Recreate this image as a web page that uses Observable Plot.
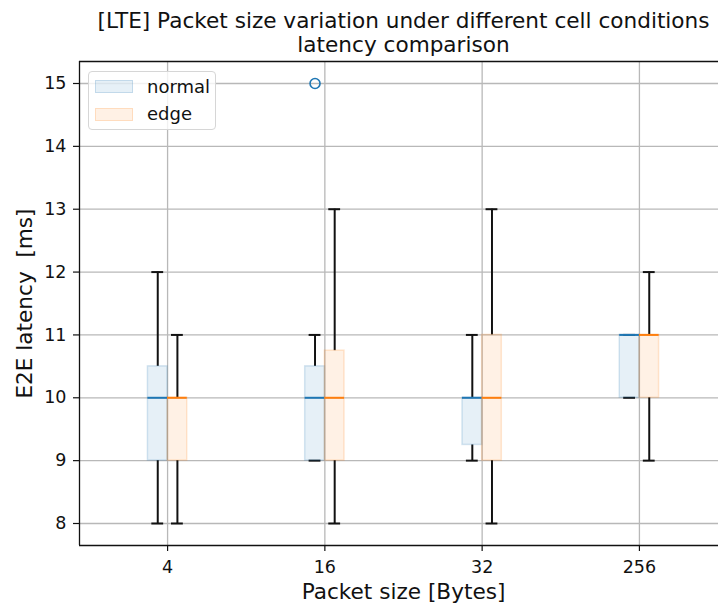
<!DOCTYPE html>
<html>
<head>
<meta charset="utf-8">
<script src="https://cdn.jsdelivr.net/npm/d3@7"></script>
<script src="https://cdn.jsdelivr.net/npm/@observablehq/plot@0.6"></script>
<style>
  html, body { margin: 0; padding: 0; background: #fff; }
  #wrap { position: relative; width: 718px; height: 606px; overflow: hidden; font-family: "DejaVu Sans", sans-serif; }
  #wrap svg text { white-space: pre; }
  #legend { position: absolute; left: 88px; top: 71px; width: 128px; height: 59px; box-sizing: border-box;
    border: 1px solid #d6d6d6; border-radius: 4px; background: rgba(255,255,255,0.8); }
  .sw { position: absolute; left: 6px; width: 38px; height: 13px; box-sizing: border-box; }
  .lab { position: absolute; left: 58px; font-size: 18px; color: #111; line-height: 18px; white-space: nowrap; }
</style>
</head>
<body>
<div id="wrap"></div>
<script>
const categories = ["4", "16", "32", "256"];
const seriesNames = ["normal", "edge"];
const seriesColors = ["#1f77b4", "#ff7f0e"];

const normalLow  = [8, 9, 9, 10];
const normalQ1   = [9, 9, 9.25, 10];
const normalMed  = [10, 10, 10, 11];
const normalQ3   = [10.5, 10.5, 10, 11];
const normalHigh = [12, 11, 11, 11];

const edgeLow  = [8, 8, 8, 9];
const edgeQ1   = [9, 9, 9, 10];
const edgeMed  = [10, 10, 10, 11];
const edgeQ3   = [10, 10.75, 11, 11];
const edgeHigh = [11, 13, 13, 12];

const outlierSeries = ["normal"];
const outlierCategory = ["16"];
const outlierValue = [15];

const yTicks = [8, 9, 10, 11, 12, 13, 14, 15];
const titleText = "[LTE] Packet size variation under different cell conditions\nlatency comparison";
const xLabel = "Packet size [Bytes]";
const yLabel = "E2E latency  [ms]";

const stats = {
  normal: [normalLow, normalQ1, normalMed, normalQ3, normalHigh],
  edge: [edgeLow, edgeQ1, edgeMed, edgeQ3, edgeHigh]
};
const offset = {normal: -0.0625, edge: 0.0625};
const halfBox = 0.0625, halfCap = 0.03125;

const rows = [];
seriesNames.forEach((s, si) => {
  categories.forEach((c, ci) => {
    const [lo, q1, med, q3, hi] = stats[s].map(a => a[ci]);
    rows.push({series: s, color: seriesColors[si], pos: ci + 1 + offset[s], lo, q1, med, q3, hi});
  });
});
const outliers = outlierValue.map((v, i) => ({
  pos: categories.indexOf(outlierCategory[i]) + 1 + offset[outlierSeries[i]],
  value: v,
  color: seriesColors[seriesNames.indexOf(outlierSeries[i])]
}));

const xDomain = [0.44, 4.56];
const yDomain = [7.65, 15.35];
const catIdx = categories.map((c, i) => i + 1);

const chart = Plot.plot({
  width: 718,
  height: 606,
  marginLeft: 79,
  marginRight: 0,
  marginTop: 61,
  marginBottom: 61,
  style: {fontFamily: "DejaVu Sans, sans-serif", background: "#fff", color: "#111"},
  x: {type: "linear", domain: xDomain, range: [79, 727]},
  y: {domain: yDomain},
  marks: [
    Plot.gridX(catIdx, {stroke: "#b8b8b8", strokeOpacity: 1, strokeWidth: 1.3}),
    Plot.gridY(yTicks, {stroke: "#b8b8b8", strokeOpacity: 1, strokeWidth: 1.3}),
    // whiskers
    Plot.ruleX(rows, {x: "pos", y1: "q3", y2: "hi", stroke: "#111", strokeWidth: 2}),
    Plot.ruleX(rows, {x: "pos", y1: "lo", y2: "q1", stroke: "#111", strokeWidth: 2}),
    // caps
    Plot.ruleY(rows, {y: "hi", x1: d => d.pos - halfCap, x2: d => d.pos + halfCap, stroke: "#111", strokeWidth: 2, strokeLinecap: "square"}),
    Plot.ruleY(rows, {y: "lo", x1: d => d.pos - halfCap, x2: d => d.pos + halfCap, stroke: "#111", strokeWidth: 2, strokeLinecap: "square"}),
    // boxes
    Plot.rect(rows, {x1: d => d.pos - halfBox, x2: d => d.pos + halfBox, y1: "q1", y2: "q3",
      fill: "color", fillOpacity: 0.11, stroke: "color", strokeOpacity: 0.18, strokeWidth: 1.5}),
    // medians
    Plot.ruleY(rows, {y: "med", x1: d => d.pos - halfBox, x2: d => d.pos + halfBox, stroke: "color", strokeWidth: 2}),
    // outliers
    Plot.dot(outliers, {x: "pos", y: "value", r: 5, stroke: "color", strokeWidth: 1.6, fill: "none"}),
    // spines
    Plot.ruleY(yDomain, {stroke: "#111", strokeWidth: 1.3}),
    Plot.ruleX([xDomain[0]], {stroke: "#111", strokeWidth: 1.3}),
    // axes
    Plot.axisY(yTicks, {anchor: "left", tickSize: 6, tickPadding: 7, fontSize: 17.5, label: null, strokeWidth: 1.2,
      tickFormat: d => String(d)}),
    Plot.axisX(catIdx, {anchor: "bottom", tickSize: 6, tickPadding: 9, fontSize: 17.5, label: null,
      tickFormat: d => categories[d - 1], strokeWidth: 1.2}),
    Plot.text([yLabel], {frameAnchor: "left", dx: -48, rotate: -90, fontSize: 21.6, textAnchor: "middle", lineAnchor: "bottom"}),
    Plot.text([xLabel], {x: 2.5, frameAnchor: "bottom", dy: 53, fontSize: 21.6, lineAnchor: "bottom"}),
    Plot.text([titleText], {x: 2.5, frameAnchor: "top", dy: -10, fontSize: 21.6, lineAnchor: "bottom", lineHeight: 1.11})
  ]
});
const wrap = document.getElementById("wrap");
wrap.appendChild(chart);

const legend = document.createElement("div");
legend.id = "legend";
seriesNames.forEach((s, i) => {
  const sw = document.createElement("div");
  sw.className = "sw";
  sw.style.top = (8 + i * 28) + "px";
  const col = d3.color(seriesColors[i]);
  sw.style.background = `rgba(${col.r},${col.g},${col.b},0.11)`;
  sw.style.border = `1.5px solid rgba(${col.r},${col.g},${col.b},0.18)`;
  legend.appendChild(sw);
  const lab = document.createElement("div");
  lab.className = "lab";
  lab.textContent = s;
  lab.style.top = (6 + i * 27) + "px";
  legend.appendChild(lab);
});
wrap.appendChild(legend);
</script>
</body>
</html>
